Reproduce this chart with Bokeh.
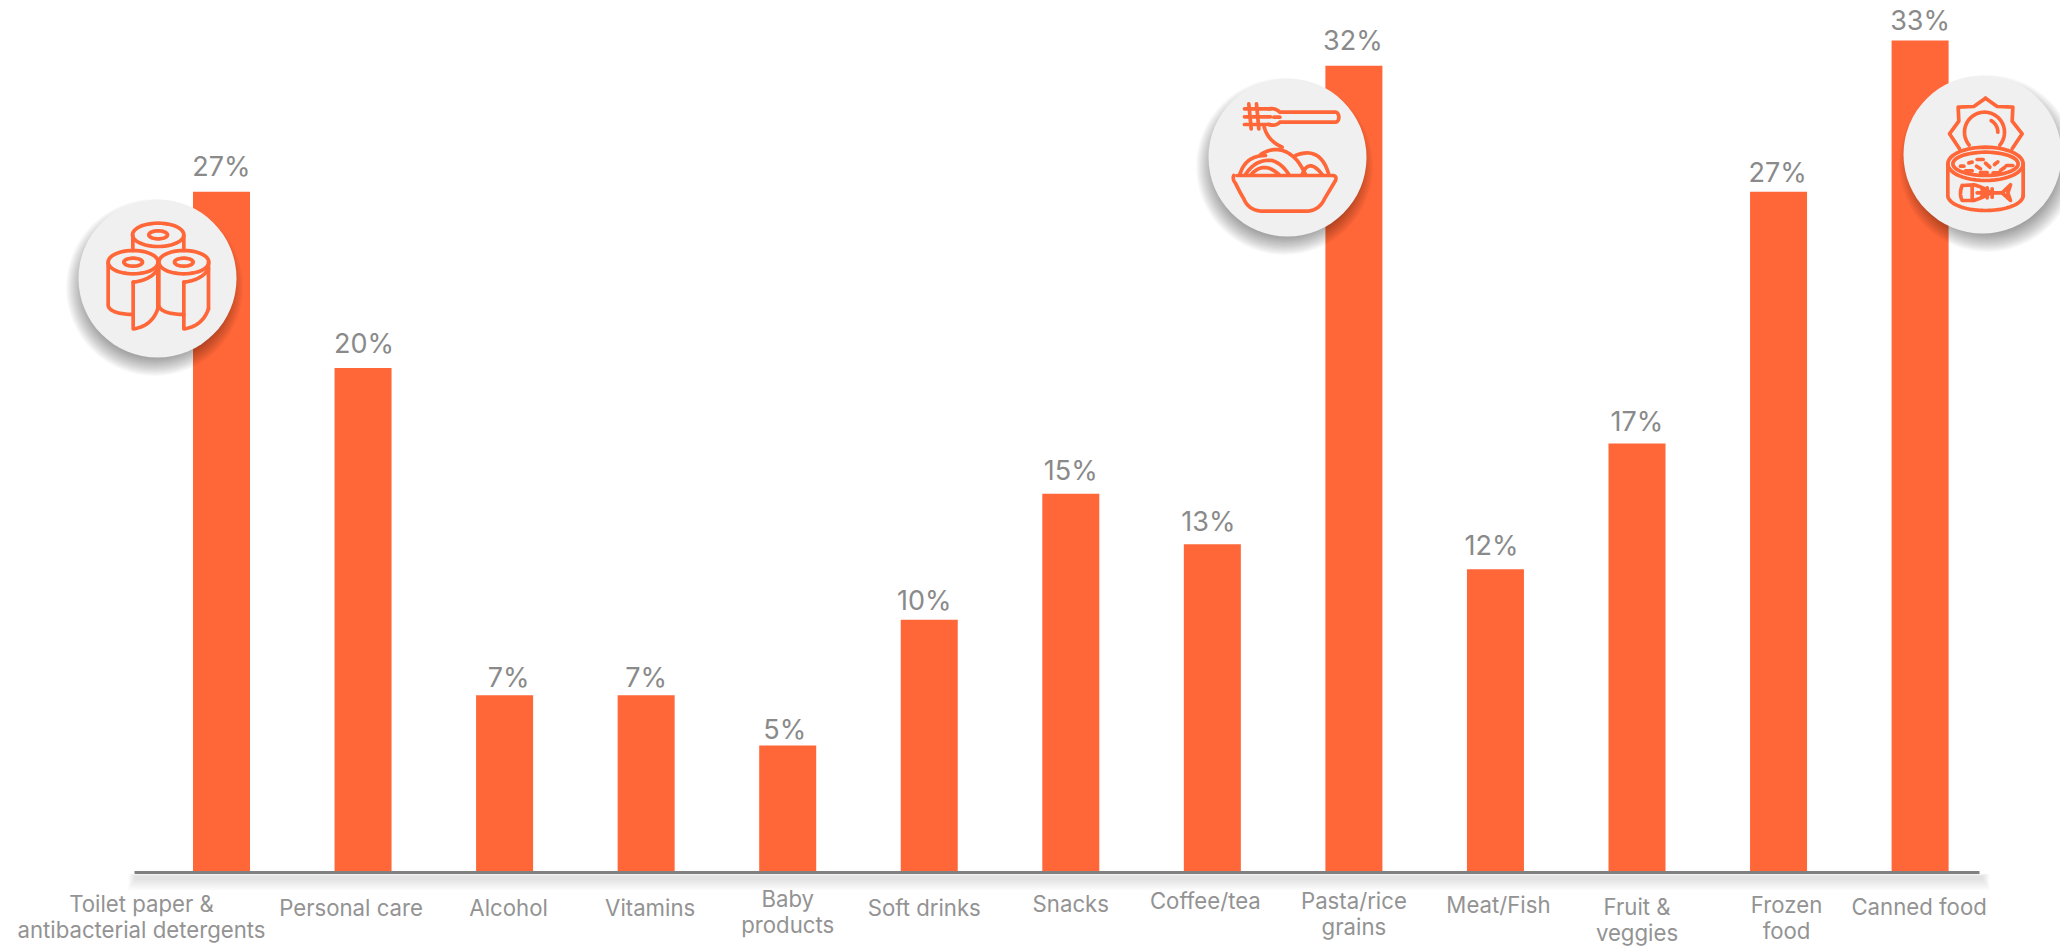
import math
from bokeh.core.properties import value
from bokeh.embed import file_html
from bokeh.models import ColumnDataSource, Range1d
from bokeh.plotting import figure
from bokeh.resources import INLINE

categories = [
    "Toilet paper &\nantibacterial detergents", "Personal care", "Alcohol", "Vitamins",
    "Baby\nproducts", "Soft drinks", "Snacks", "Coffee/tea", "Pasta/rice\ngrains",
    "Meat/Fish", "Fruit &\nveggies", "Frozen\nfood", "Canned food",
]
shares = [27, 20, 7, 7, 5, 10, 15, 13, 32, 12, 17, 27, 33]

# Hand placement of the category captions, in pixels from bar centre and baseline.
caption_dx = [-80, -12, 4, 4, 0, -5, 0, -7, 0, 3, 0, 8, -1]
caption_dy = [32, 36, 36, 36, 27, 36, 32, 29, 29, 33, 35, 33, 35]

# Hand placement of the percentage labels, in pixels from bar centre and bar top.
label_dx = [0, 1, 4, 0, -3, -5, 0, -4, -1, -4, 0, -1, 0]
label_dy = [-25, -24, -17.5, -17.5, -16, -19, -23, -23, -25, -24, -21.5, -19, -20]

W, H = 2060, 946
BASE_Y = 871
X0, STEP = 221.0, 141.55
PX_PER_PCT = 25.18
ORANGE = "#ff6638"
FONT = "Inter"

p = figure(
    width=W, height=H, output_backend="svg", toolbar_location=None, min_border=0,
    x_range=Range1d(-X0 / STEP, (W - X0) / STEP),
    y_range=Range1d(-(H - BASE_Y) / PX_PER_PCT, BASE_Y / PX_PER_PCT),
    background_fill_color="white", border_fill_color="white",
)
p.extra_x_ranges["px"] = Range1d(0, W)
p.extra_y_ranges["px"] = Range1d(H, 0)
p.axis.visible = False
p.grid.visible = False
p.outline_line_color = None
PX = dict(x_range_name="px", y_range_name="px")

# Soft band under the baseline
for k in range(7):
    p.quad(left=134 - k, right=1983 + k, top=875 - k * 0.3, bottom=880 + k * 1.6,
           fill_color="#000000", fill_alpha=0.0145, line_color=None, **PX)

xs = list(range(len(shares)))
p.vbar(x=xs, top=shares, bottom=0, width=57 / STEP, fill_color=ORANGE, line_color=None)
p.quad(left=134, right=1979, top=870.5, bottom=873.5, fill_color="#808080", line_color=None, **PX)

# Percentage labels above each bar
p.text(x=xs, y=shares, text=[f"{v}%" for v in shares], x_offset=label_dx, y_offset=label_dy,
       text_align="center", text_baseline="alphabetic", text_font=value(FONT),
       text_font_size="27px", text_color="#8a8a8a")

# Category captions, one row per text line
cap = dict(x=[], y=[], text=[], dx=[], dy=[])
for i, label in enumerate(categories):
    for j, line in enumerate(label.split("\n")):
        cap["x"].append(i)
        cap["y"].append(0)
        cap["text"].append(line)
        cap["dx"].append(caption_dx[i])
        cap["dy"].append(caption_dy[i] + j * 25.5)
p.text(x="x", y="y", text="text", x_offset="dx", y_offset="dy", source=ColumnDataSource(cap),
       text_align="center", text_baseline="middle", text_font=value(FONT),
       text_font_size="22.2px", text_color="#939393")


def badge(cx, cy, sx, sy):
    """Pale disc with a blurred drop shadow, stacked from faint discs."""
    for k in range(15, -1, -1):
        p.scatter([cx + sx], [cy + sy], size=138 + k * 2.6, marker="circle",
                  fill_color="#000000", fill_alpha=0.027, line_color=None, **PX)
    p.scatter([cx], [cy], size=158, marker="circle", fill_color="#f0f0f0", line_color=None, **PX)


def ell(cx, cy, rx, ry, a0=0, a1=360):
    n = 48
    t = [math.radians(a0 + (a1 - a0) * i / n) for i in range(n + 1)]
    return [(cx + rx * math.cos(a), cy + ry * math.sin(a)) for a in t]


def qb(a, c, b):
    pts = []
    for i in range(21):
        t = i / 20
        pts.append(((1 - t) ** 2 * a[0] + 2 * t * (1 - t) * c[0] + t ** 2 * b[0],
                    (1 - t) ** 2 * a[1] + 2 * t * (1 - t) * c[1] + t ** 2 * b[1]))
    return pts


def stroke(ox, oy, paths, width=3.7):
    p.multi_line([[ox + q[0] / 3 for q in s] for s in paths],
                 [[oy + q[1] / 3 for q in s] for s in paths],
                 line_color=ORANGE, line_width=width, line_join="round", line_cap="round", **PX)


def roll(cx):
    return [
        ell(cx, 365, 75, 35),
        ell(cx, 365, 28, 12),
        [(cx - 75, 365), (cx - 75, 495)] + qb((cx - 75, 495), (cx - 70, 520), (cx, 522)),
        [(cx + 74, 365), (cx + 74, 505)],
        qb((cx, 425), (cx + 55, 418), (cx + 74, 385)),
        [(cx, 425), (cx, 565)] + qb((cx, 565), (cx + 55, 558), (cx + 74, 505)),
    ]


# Toilet paper rolls
badge(157, 278, -3, 9)
stroke(50, 140, [
    ell(323, 283, 77, 35), ell(323, 283, 28, 12),
    [(247, 285), (247, 330)], [(400, 285), (400, 330)],
] + roll(248) + roll(400))

# Bowl of pasta with a fork
badge(1287, 157, -3, 9)
stroke(1180, 0, [
    [(192, 325), (270, 325)], [(192, 349), (270, 349)], [(192, 372), (270, 372)],
    [(205, 310), (212, 385)], [(228, 310), (235, 385)],
    qb((265, 325), (285, 322), (298, 335)) + [(465, 335)] + ell(465, 350, 10, 15, -90, 90) + [(298, 365)]
    + qb((298, 365), (285, 378), (265, 372)),
    [(298, 350), (280, 350)],
    qb((250, 375), (260, 420), (305, 440)),
    qb((178, 522), (195, 465), (255, 465)),
    qb((195, 522), (225, 475), (275, 480)) + qb((275, 480), (305, 490), (325, 522)),
    qb((212, 522), (250, 480), (295, 522)),
    qb((240, 462), (300, 425), (350, 480)) + qb((350, 480), (365, 500), (375, 522)),
    qb((345, 465), (420, 435), (445, 522)),
    qb((365, 522), (385, 470), (425, 522)),
    qb((160, 525), (155, 535), (165, 548)) + qb((165, 548), (175, 570), (190, 595))
    + qb((190, 595), (205, 632), (250, 632)) + [(375, 632)]
    + qb((375, 632), (415, 632), (432, 595)) + [(465, 540)] + qb((465, 540), (470, 525), (455, 525)) + [(170, 525)],
])

# Open tin of fish
badge(1982, 154, 5, 9)
tin_lid = [(675, 293), (710, 318), (757, 320), (755, 362), (785, 400), (755, 445)]
tin_lid_left = [(675, 293), (640, 318), (593, 320), (595, 362), (567, 400), (597, 445)]
bits = [
    [(600, 497), (610, 497)], [(625, 487), (635, 485)], [(650, 477), (668, 477)],
    [(675, 488), (688, 500)], [(702, 492), (712, 484)], [(738, 495), (757, 495)],
    [(615, 511), (635, 511)], [(648, 497), (660, 505)], [(660, 516), (680, 516)],
    [(698, 517), (716, 517)], [(720, 510), (733, 500)],
]
stroke(1760, 0, [
    ell(672, 395, 60, 60, 140, 400),
    ell(672, 395, 40, 40, -60, 0),
    ell(675, 490, 113, 50),
    ell(675, 490, 98, 35),
    [(562, 490), (562, 585)] + ell(675, 585, 113, 45, 180, 0),
    [(788, 490), (788, 585)],
    tin_lid, tin_lid_left,
    qb((605, 555), (595, 580), (605, 600)) + [(640, 600)] + qb((640, 600), (670, 590), (690, 577))
    + qb((690, 577), (670, 560), (640, 553)) + [(605, 555)],
    [(635, 555), (635, 600)],
    [(650, 577), (725, 577)],
    [(665, 565), (665, 590)], [(680, 562), (680, 592)], [(695, 565), (695, 590)],
    [(725, 577), (750, 553), (742, 577), (750, 600), (725, 577)],
] + bits)

open("out.html", "w").write(file_html(p, INLINE))
